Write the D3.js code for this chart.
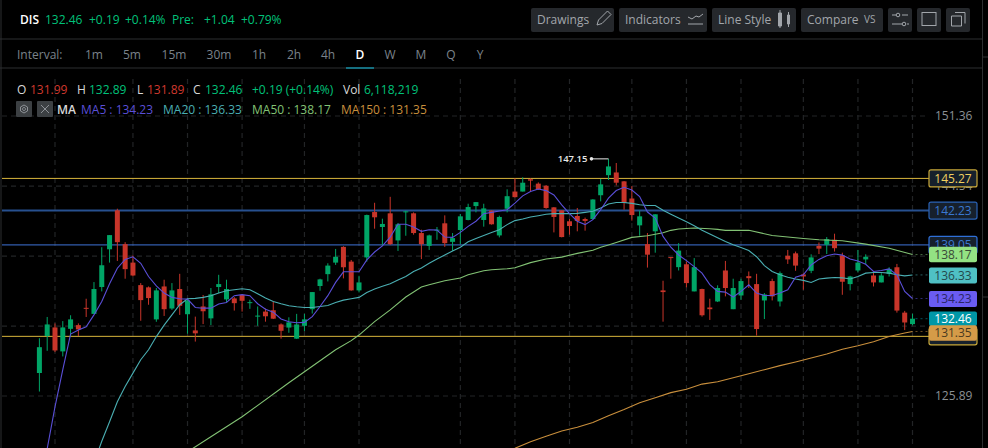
<!DOCTYPE html>
<html>
<head>
<meta charset="utf-8">
<script src="https://cdn.jsdelivr.net/npm/d3@7"></script>
<style>
  html, body { margin: 0; padding: 0; background: #000; overflow: hidden; }
  svg { display: block; }
  text { font-family: "Open Sans", sans-serif; font-size: 12px; }
</style>
</head>
<body>
<svg id="chart" width="988" height="448"></svg>
<script>
// daily candles
const opens = [
  127.81,130.96,131.70,129.64,131.58,131.90,133.41,132.88,135.25,138.65,
  142.25,139.12,137.44,135.42,135.22,132.40,135.30,133.35,135.07,132.85,
  131.44,133.53,132.49,135.25,134.15,134.24,134.54,133.82,132.64,133.08,
  133.20,131.96,131.69,130.73,131.84,133.29,135.34,136.40,137.44,138.87,
  137.53,134.95,137.91,142.09,140.70,141.97,139.46,142.06,141.97,140.14,
  138.96,140.42,141.04,139.33,140.42,141.35,142.65,141.35,142.22,139.92,
  142.40,144.02,144.02,145.19,144.77,144.57,142.53,142.25,141.23,141.72,
  141.44,141.44,143.67,145.58,145.84,144.99,143.36,140.85,139.12,140.30,
  134.95,137.94,137.03,137.29,134.86,135.07,133.44,133.97,136.73,133.29,
  134.50,136.22,135.51,134.06,135.78,133.97,138.06,138.28,136.37,136.70,
  138.96,139.06,139.52,138.09,135.51,136.73,137.73,136.28,135.66,136.43,
  137.02,132.99,131.99];
const highs = [
  130.77,132.61,132.05,132.25,132.76,132.05,134.21,135.69,138.84,139.95,
  142.40,139.30,138.09,135.60,135.30,135.16,135.90,135.60,136.43,134.27,
  132.64,134.54,135.16,136.34,135.90,134.36,134.57,134.12,133.53,133.35,
  133.97,132.05,132.58,132.88,132.88,134.80,135.99,137.38,138.68,138.93,
  137.68,136.25,141.85,142.96,141.47,143.52,141.07,142.22,142.06,140.45,
  139.99,140.70,141.78,140.14,141.91,142.87,143.02,142.87,142.25,141.75,
  144.23,145.28,145.38,145.28,144.89,144.63,142.56,142.25,141.44,142.47,
  141.57,143.30,145.22,147.15,146.75,145.02,144.54,142.22,140.14,141.88,
  135.81,137.94,139.21,137.53,137.85,135.10,134.21,135.40,137.59,135.99,
  135.99,136.64,136.43,134.71,135.99,136.64,138.59,138.44,136.49,138.19,
  139.27,139.77,140.08,138.34,136.25,138.59,138.19,136.64,136.49,137.02,
  137.32,133.14,132.89];
const lows = [
  126.26,129.69,129.58,129.21,130.91,130.96,132.61,132.88,134.86,137.44,
  137.59,135.99,136.19,132.28,133.68,132.19,132.70,133.23,132.79,131.16,
  130.48,131.99,131.90,134.71,133.88,133.17,133.08,133.32,131.84,132.20,
  132.43,130.73,131.24,130.71,131.38,132.91,134.92,135.75,137.23,136.02,
  134.92,134.77,137.53,140.54,138.99,139.05,138.50,139.89,139.99,137.76,
  138.59,139.52,138.87,138.50,139.12,141.32,142.06,140.73,140.92,139.74,
  142.06,143.46,144.02,144.02,144.17,142.40,140.20,139.74,139.99,140.30,
  140.36,141.38,143.09,145.12,144.60,142.31,141.29,139.89,136.99,138.34,
  132.20,135.99,136.73,135.22,134.86,132.64,132.35,133.92,134.42,133.29,
  134.12,135.16,131.00,132.43,134.06,133.53,137.32,136.70,135.01,136.49,
  138.22,138.22,138.44,134.56,134.95,136.58,137.32,135.30,135.66,136.19,
  132.99,131.47,131.89];
const closes = [
  130.00,131.96,129.72,131.70,132.40,131.53,133.32,135.07,137.20,139.95,
  139.30,136.85,136.28,134.09,134.27,134.95,133.29,134.95,133.59,134.06,
  131.19,133.11,134.60,135.51,135.07,133.82,134.03,133.91,132.73,132.67,
  132.46,131.41,132.14,131.96,132.40,134.80,135.93,137.17,137.97,137.02,
  134.95,135.66,141.81,141.60,140.98,139.12,140.95,142.16,140.14,139.12,
  139.92,140.45,139.21,139.67,141.69,142.56,143.02,142.43,140.95,141.63,
  143.58,143.49,144.86,145.06,144.23,142.47,141.63,139.77,140.79,141.26,
  141.26,143.27,144.70,146.42,144.86,142.93,141.81,141.69,138.16,141.88,
  134.80,137.88,138.53,135.60,137.03,132.76,133.29,135.16,135.16,135.16,
  135.78,136.04,131.56,134.59,134.42,136.49,137.73,137.17,136.19,137.91,
  138.71,139.58,138.75,135.72,136.19,137.44,137.97,135.66,136.28,136.87,
  133.17,132.13,132.46];

// moving averages, one value per candle
const ma5 = [
  null,121.60,124.99,128.09,131.13,131.47,131.75,132.79,133.97,135.54,
  136.93,137.73,137.97,137.38,136.19,135.36,134.71,134.33,134.21,134.18,
  133.44,133.38,133.38,133.74,133.88,134.48,134.57,134.48,133.77,133.29,
  133.03,132.43,132.20,132.11,132.14,132.64,133.53,134.48,135.66,136.61,
  136.61,136.61,137.68,138.40,138.96,139.77,140.95,140.95,140.70,140.30,
  140.45,140.42,139.77,139.74,140.20,140.76,141.23,141.94,142.06,142.19,
  142.31,142.93,143.61,144.02,144.26,144.11,143.70,142.77,141.94,141.23,
  140.92,141.38,142.31,143.40,144.11,144.42,144.17,143.55,142.09,141.53,
  139.83,138.84,138.13,137.62,137.08,136.49,135.46,134.86,134.80,134.36,
  134.86,135.45,134.71,134.50,134.50,134.71,135.01,136.13,136.34,137.23,
  137.73,138.06,138.22,138.12,137.76,137.58,137.29,136.64,136.73,136.87,
  136.34,134.86,134.23];
const ma20 = [
  null,null,null,null,null,null,null,120.45,122.20,123.77,
  125.42,126.68,127.80,128.93,129.78,130.91,131.90,132.79,133.68,134.21,
  134.24,134.33,134.48,134.71,134.92,135.01,135.10,135.01,134.65,134.27,
  133.97,133.77,133.59,133.50,133.44,133.44,133.53,133.62,133.88,134.09,
  134.21,134.33,134.77,135.07,135.31,135.54,135.87,136.19,136.64,136.96,
  137.38,137.76,138.12,138.50,138.84,139.33,139.64,139.92,140.20,140.45,
  140.92,141.29,141.44,141.63,141.75,141.88,141.94,141.94,141.94,141.97,
  142.06,142.16,142.47,142.84,142.99,142.99,142.90,142.77,142.71,142.71,
  142.25,141.88,141.53,141.19,140.82,140.39,140.05,139.71,139.37,139.06,
  138.81,138.53,137.97,137.17,136.64,136.34,136.13,135.96,135.84,135.66,
  135.96,136.04,136.10,136.07,135.96,136.19,136.49,136.55,136.55,136.49,
  136.34,136.25,136.33];

// the two slow averages only at the candles where they bend
const ma50Days = [19,22,26,32,38,40,41,43,45,47,49,50,52,54,55,56,57,58,60,61,63,65,67,69,71,72,73,74,76,78,80,81,82,84,86,87,88,91,94,98,100,103,106,109,112];
const ma50 = [121.35,122.56,124.18,126.99,129.78,130.56,131.04,132.20,133.23,134.36,135.25,135.45,135.81,136.05,136.34,136.52,136.70,136.79,136.88,136.97,137.44,137.77,137.94,138.28,138.56,138.84,139.05,139.27,139.74,139.89,140.17,140.39,140.51,140.61,140.54,140.48,140.39,140.39,139.92,139.64,139.52,139.43,139.12,138.75,138.17];
const ma150Days = [61,63,65,67,69,71,73,75,77,79,81,83,85,87,89,91,93,95,97,99,101,103,105,107,109,111,112];
const ma150 = [121.63,122.16,122.60,123.02,123.32,123.71,124.26,124.78,125.34,125.75,126.17,126.45,126.88,127.07,127.41,127.75,128.09,128.43,128.74,129.07,129.41,129.83,130.12,130.46,130.91,131.22,131.35];

const priceGrid = [151.36, 144.54, 138.03, 131.81, 125.89];
// 138.03 and 131.81 sit fully behind the level boxes, so they get no text
const priceTicks = [151.36, 144.54, 125.89];
const gridDays = [2,12,19,26,34,41,54,61,68,76,83,90,98,105,112];
const intervals = ["1m","5m","15m","30m","1h","2h","4h","D","W","M","Q","Y"];
const intervalX = [94,132,174,219,259,294,328,360,390,421,451,480];

const GREEN = "#00a566", RED = "#c8352a", TEXT_GREEN = "#00c27a", TEXT_RED = "#d0392e";
const C_MA5 = "#5a4fd8", C_MA20 = "#4aaeb2", C_MA50 = "#82c274", C_MA150 = "#c98f3c";

const svg = d3.select("#chart");
const xScale = d3.scaleLinear().domain([0, 112]).range([39.4, 912.5]);
const yScale = d3.scaleLog().domain([125.89, 151.36]).range([396, 116]);

// ---- grid
const grid = svg.append("g").attr("stroke", "#222426").attr("stroke-dasharray", "5,4").attr("stroke-width", 1.2);
grid.selectAll(".v").data(gridDays).enter().append("line")
  .attr("x1", d => xScale(d)).attr("x2", d => xScale(d)).attr("y1", 79).attr("y2", 448);
grid.selectAll(".h").data(priceGrid).enter().append("line")
  .attr("x1", 2).attr("x2", 928).attr("y1", d => yScale(d)).attr("y2", d => yScale(d));

// frame
svg.append("g").attr("stroke", "#2c2e30").selectAll("line")
  .data([[0,39,982,39],[0,68,982,68],[1,0,1,448],[982.5,0,982.5,448],[982,57,988,57],[982,297,988,297]])
  .enter().append("line")
  .attr("x1", d => d[0]).attr("y1", d => d[1]).attr("x2", d => d[2]).attr("y2", d => d[3]);

// ---- price axis, the level boxes cover part of it later
const axis = svg.append("g").attr("transform", "translate(935,0)")
  .call(d3.axisRight(yScale).tickValues(priceTicks).tickSize(0).tickPadding(0).tickFormat(d3.format(".2f")));
axis.select(".domain").remove();
axis.selectAll("text").attr("fill", "#8b9095").style("font-size", "12px").style("font-family", '"Open Sans", sans-serif');

// ---- drawn level lines
const levels = [
  {v: 145.27, c: "#d8b53c", w: 1, text: "#f0d060", box: "#c8a83a", show: true},
  {v: 142.23, c: "#27508f", w: 2, text: "#3a78d0", box: "#2a62b4", show: true},
  {v: 139.05, c: "#3f74d8", w: 1, text: "#3a78d0", box: "#2f6fd8", show: true},
  {v: 130.93, c: "#d8b53c", w: 1, text: "#f0d060", box: "#c8a83a", show: false}
];
svg.append("g").selectAll("line").data(levels).enter().append("line")
  .attr("x1", 2).attr("x2", 929)
  .attr("y1", d => yScale(d.v)).attr("y2", d => yScale(d.v))
  .attr("stroke", d => d.c).attr("stroke-width", d => d.w);

// ---- candles
const days = d3.range(opens.length);
const candles = svg.append("g");
candles.selectAll(".wick").data(days).enter().append("line")
  .attr("x1", i => xScale(i)).attr("x2", i => xScale(i))
  .attr("y1", i => yScale(highs[i])).attr("y2", i => yScale(lows[i]))
  .attr("stroke", i => closes[i] >= opens[i] ? GREEN : RED);
candles.selectAll(".bar").data(days).enter().append("rect")
  .attr("x", i => xScale(i) - 2.5).attr("width", 5)
  .attr("y", i => yScale(Math.max(opens[i], closes[i])))
  .attr("height", i => Math.max(1, Math.abs(yScale(opens[i]) - yScale(closes[i]))))
  .attr("fill", i => closes[i] >= opens[i] ? GREEN : RED);

// ---- moving averages
const maLine = d3.line().defined(d => d[1] != null).x(d => xScale(d[0])).y(d => yScale(d[1]));
const maSeries = [
  {pts: ma150.map((v, i) => [ma150Days[i], v]), c: C_MA150},
  {pts: ma50.map((v, i) => [ma50Days[i], v]), c: C_MA50},
  {pts: ma20.map((v, i) => [i, v]), c: C_MA20},
  {pts: ma5.map((v, i) => [i, v]), c: C_MA5}
];
svg.append("g").selectAll("path").data(maSeries).enter().append("path")
  .attr("d", d => maLine(d.pts)).attr("fill", "none")
  .attr("stroke", d => d.c).attr("stroke-width", 1.1);

// dotted leaders to the labels
const leaders = [[138.17, C_MA50], [136.33, C_MA20], [134.23, C_MA5], [132.46, "#0097a7"], [131.35, C_MA150]];
svg.append("g").selectAll("line").data(leaders).enter().append("line")
  .attr("x1", xScale(112) + 3).attr("x2", 929)
  .attr("y1", d => yScale(d[0])).attr("y2", d => yScale(d[0]))
  .attr("stroke", d => d[1]).attr("stroke-opacity", 0.55).attr("stroke-dasharray", "2,3");

// high marker
const hx = xScale(73), hy = yScale(147.15);
svg.append("line").attr("x1", hx - 17).attr("x2", hx).attr("y1", hy).attr("y2", hy).attr("stroke", "#e8e8e8");
svg.append("circle").attr("cx", hx - 17).attr("cy", hy).attr("r", 1.8).attr("fill", "#e8e8e8");
svg.append("text").attr("x", hx - 21).attr("y", hy).attr("dy", "0.35em").attr("text-anchor", "end")
  .attr("fill", "#e8e8e8").attr("font-weight", 600).style("font-size", "9.5px").text("147.15");

// ---- level boxes on the axis
function priceBox(v, nudge, h, fill, stroke, color, label) {
  const cy = yScale(v) + nudge;
  svg.append("rect").attr("x", 929).attr("y", cy - h / 2).attr("width", 48).attr("height", h).attr("rx", 2)
    .attr("fill", fill).attr("stroke", stroke).attr("stroke-width", stroke === "none" ? 0 : 1.2);
  if (label) {
    svg.append("text").attr("x", 953).attr("y", cy).attr("dy", "0.36em").attr("text-anchor", "middle")
      .attr("fill", color).text(label);
  }
}
levels.forEach(l => priceBox(l.v, 0, 17, "#16202c", l.box, l.text, l.show ? l.v.toFixed(2) : ""));
priceBox(138.17, 0, 15.5, "#93e283", "none", "#3a4a38", "138.17");
priceBox(136.33, 0.5, 16, "#4fc0c4", "none", "#24494c", "136.33");
priceBox(134.23, 0.5, 16, "#6a5cf2", "none", "#2a2566", "134.23");
priceBox(132.46, 0, 14.5, "#0097a7", "none", "#ffffff", "132.46");
priceBox(131.35, 1.5, 15.5, "#d59b48", "none", "#4a3a20", "131.35");

// ---- header
function label(x, y, str, color, weight) {
  return svg.append("text").attr("x", x).attr("y", y).attr("dy", "0.36em")
    .attr("fill", color).attr("font-weight", weight || 400).text(str);
}
label(20, 19.5, "DIS", "#ffffff", 600);
[[45,"132.46"],[89,"+0.19"],[125,"+0.14%"],[172,"Pre:"],[204,"+1.04"],[241,"+0.79%"]]
  .forEach(d => label(d[0], 19.5, d[1], TEXT_GREEN));

label(17, 55, "Interval:", "#7b838b");
intervals.forEach((d, i) => {
  label(intervalX[i], 55, d, d === "D" ? "#ffffff" : "#7b838b", d === "D" ? 600 : 400).attr("text-anchor", "middle");
});
svg.append("line").attr("x1", 346).attr("x2", 374).attr("y1", 68).attr("y2", 68).attr("stroke", "#14c8e8");

// OHLC row
[[17,"O","#d8d8d8"],[30,"131.99",TEXT_RED],[77,"H","#d8d8d8"],[89,"132.89",TEXT_GREEN],[137,"L","#d8d8d8"],[147,"131.89",TEXT_RED],
 [193,"C","#d8d8d8"],[205,"132.46",TEXT_GREEN],[252,"+0.19 (+0.14%)",TEXT_GREEN],[343,"Vol","#d8d8d8"],[364,"6,118,219",TEXT_GREEN]]
  .forEach(d => label(d[0], 89.5, d[1], d[2]));

// MA row
svg.selectAll(".mabtn").data([16, 37]).enter().append("rect")
  .attr("x", d => d).attr("y", 101).attr("width", 16).attr("height", 16).attr("rx", 1).attr("fill", "#3c4043");
svg.append("path").attr("d", "M24 105l3.5 2v4l-3.5 2-3.5-2v-4zM24 107.5a1.5 1.5 0 1 0 .01 0")
  .attr("fill", "none").attr("stroke", "#8d9196");
svg.append("path").attr("d", "M41 105l8 8M49 105l-8 8").attr("stroke", "#8d9196").attr("fill", "none");
label(57, 109.5, "MA", "#d8d8d8", 600);
[[81,"MA5 : 134.23",C_MA5],[163,"MA20 : 136.33",C_MA20],[252,"MA50 : 138.17",C_MA50],[341,"MA150 : 131.35",C_MA150]]
  .forEach(d => label(d[0], 109.5, d[1], d[2]));

// ---- toolbar
const buttons = [
  {x: 531, w: 83, t: "Drawings"}, {x: 619, w: 88, t: "Indicators"}, {x: 712, w: 84, t: "Line Style"},
  {x: 801, w: 82, t: "Compare"}, {x: 888, w: 24, t: ""}, {x: 917, w: 24, t: ""}, {x: 946, w: 24, t: ""}
];
svg.selectAll(".btn").data(buttons).enter().append("rect")
  .attr("x", d => d.x).attr("y", 8).attr("width", d => d.w).attr("height", 24).attr("rx", 2).attr("fill", "#25282c");
buttons.forEach(d => { if (d.t) label(d.x + 6, 19.5, d.t, "#a2a6ab"); });
label(864, 19, "VS", "#a2a6ab").style("font-size", "10px");
const icons = svg.append("g").attr("fill", "none").attr("stroke", "#a2a6ab");
icons.append("path").attr("d", "M597 25l1.5-5 9-9 3.5 3.5-9 9z");
icons.append("path").attr("d", "M688 17l4 2 4-3 3 1 4-3M688 24h15");
icons.append("path").attr("d", "M778.500 13h3v13h-3zM787.500 15h2v9h-2z").attr("fill", "#a2a6ab");
icons.append("path").attr("d", "M780 10v18M788.500 12v15");
icons.append("path").attr("d", "M892 15h4M902 15h6M892 24h10M907 24h2");
icons.append("circle").attr("cx", 898).attr("cy", 15).attr("r", 1.8);
icons.append("circle").attr("cx", 904).attr("cy", 24).attr("r", 1.8);
icons.append("rect").attr("x", 922).attr("y", 12.500).attr("width", 14).attr("height", 13);
icons.append("path").attr("d", "M955 12.500h10v11M951.500 16h10v10h-10z");
</script>
</body>
</html>
